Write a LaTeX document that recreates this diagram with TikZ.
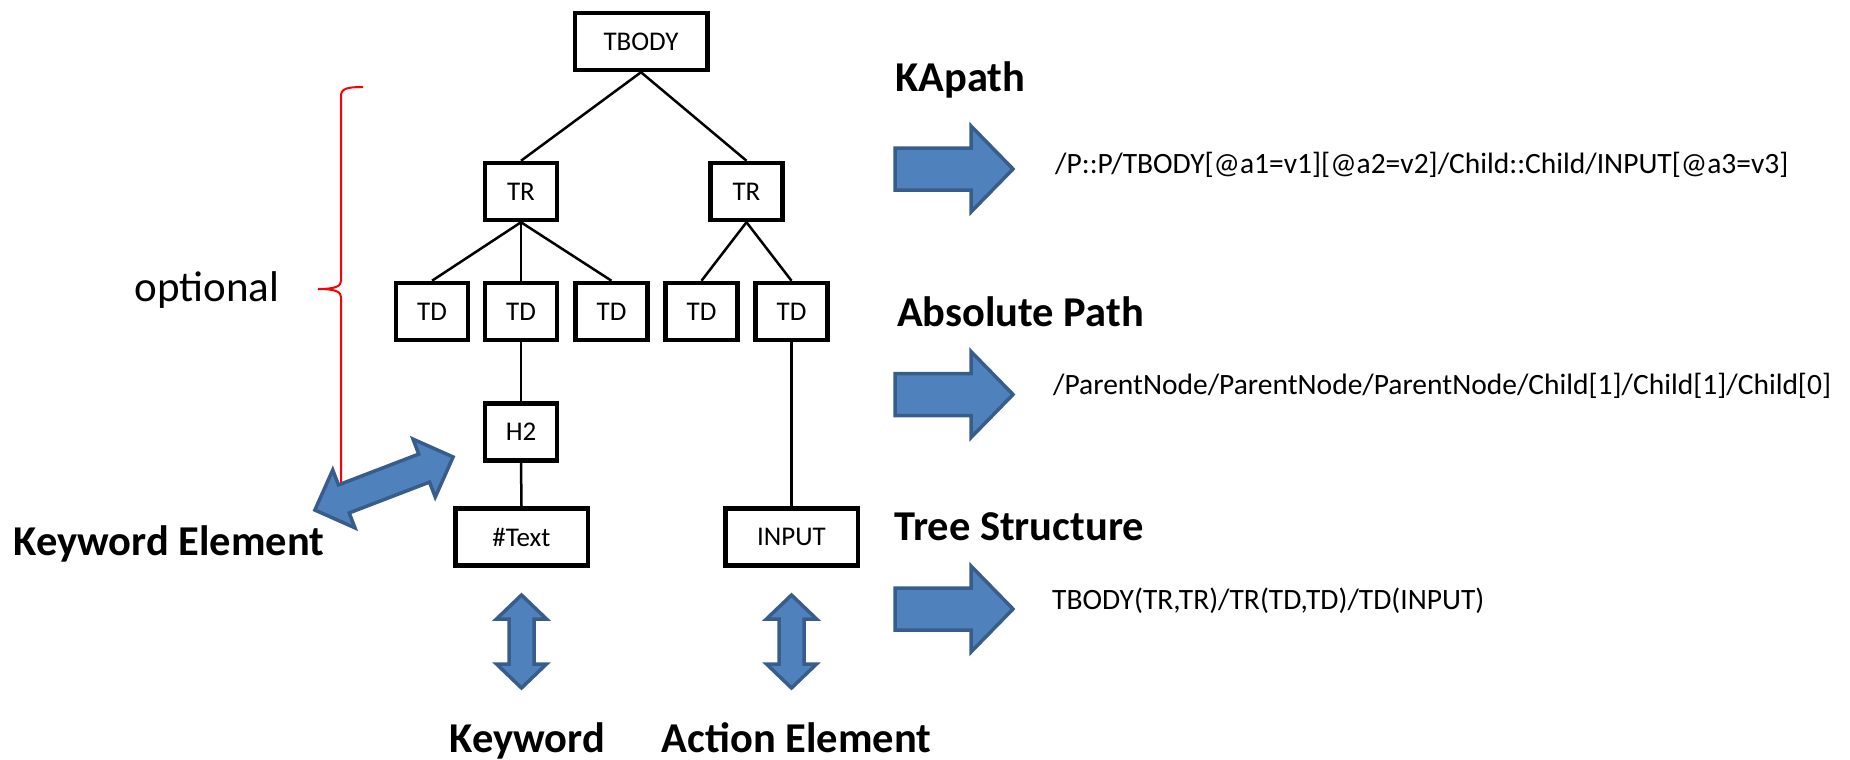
\documentclass[tikz,border=0pt]{standalone}
\usepackage{fontspec}
\setmainfont{Carlito}
\definecolor{arrowfill}{HTML}{4F81BD}
\definecolor{arrowline}{HTML}{385D8A}
\tikzset{
  box/.style={draw, line width=4.5pt, minimum height=57pt, inner sep=0pt, font=\fontsize{27}{32}\selectfont},
  widebox/.style={box, minimum width=132.5pt},
  smallbox/.style={box, minimum width=72pt},
  treeedge/.style={line width=2.5pt},
  hdr/.style={font=\fontsize{42.5}{50}\selectfont\bfseries, inner sep=0pt, anchor=base west},
  ptxt/.style={font=\fontsize{29.5}{34}\selectfont, inner sep=0pt, anchor=base west},
  bracestyle/.style={draw=red, line width=2pt},
  blockarrow/.style={fill=arrowfill, draw=arrowline, line width=3.5pt, line join=miter},
  pics/rarrow/.style={code={
    \path[blockarrow] (0,-21) -- (76,-21) -- (76,-43) -- (118,0) -- (76,43) -- (76,21) -- (0,21) -- cycle;
  }},
  pics/dbl/.style n args={4}{code={
    \path[blockarrow] (-#1/2,0) -- (-#1/2+#4,-#2/2) -- (-#1/2+#4,-#3/2) -- (#1/2-#4,-#3/2) -- (#1/2-#4,-#2/2) -- (#1/2,0) -- (#1/2-#4,#2/2) -- (#1/2-#4,#3/2) -- (-#1/2+#4,#3/2) -- (-#1/2+#4,#2/2) -- cycle;
  }},
}
\begin{document}
\begin{tikzpicture}[x=1pt,y=-1pt]
\useasboundingbox (0,0) rectangle (1850,760);

% tree nodes
\node[widebox] (tbody) at (641,41.5) {TBODY};
\node[smallbox] (tr1) at (521,191.5) {TR};
\node[smallbox] (tr2) at (746.5,191.5) {TR};
\node[smallbox] (td1) at (432,311.5) {TD};
\node[smallbox] (td2) at (521,311.5) {TD};
\node[smallbox] (td3) at (611.5,311.5) {TD};
\node[smallbox] (td4) at (701.5,311.5) {TD};
\node[smallbox] (td5) at (791.5,311.5) {TD};
\node[smallbox] (h2) at (521,432) {H2};
\node[widebox] (txt) at (521.5,537) {\#Text};
\node[widebox] (input) at (791.5,537) {INPUT};

% tree edges
\draw[treeedge] (tbody.south) -- (tr1.north);
\draw[treeedge] (tbody.south) -- (tr2.north);
\draw[treeedge] (tr1.south) -- (td1.north);
\draw[treeedge] (tr1.south) -- (td2.north);
\draw[treeedge] (tr1.south) -- (td3.north);
\draw[treeedge] (tr2.south) -- (td4.north);
\draw[treeedge] (tr2.south) -- (td5.north);
\draw[treeedge] (td2.south) -- (h2.north);
\draw[treeedge] (h2.south) -- (txt.north);
\draw[treeedge] (td5.south) -- (input.north);

% red brace
\draw[bracestyle] (363,87) .. controls (346,87) and (341,89) .. (341,96) -- (341,281)
  .. controls (341,286) and (336,289) .. (318,289)
  .. controls (336,289) and (341,292) .. (341,297) -- (341,482)
  .. controls (341,489) and (346,491) .. (363,491);
\node[font=\fontsize{43}{50}\selectfont, inner sep=0pt, anchor=base] (optional) at (207,301) {optional};

% keyword element arrow and label
\pic[rotate=21] at (384,483.5) {dbl={148}{62}{30}{31}};
\node[hdr, anchor=base] (kwelem) at (169,555) {Keyword Element};

% vertical double arrows
\pic[rotate=90] at (521.5,641.5) {dbl={93}{50}{25}{24}};
\pic[rotate=90] at (791.5,641.5) {dbl={93}{50}{25}{24}};
\node[hdr, anchor=base] (kw) at (527.5,752) {Keyword};
\node[hdr, anchor=base] (action) at (796.5,752) {Action Element};

% right side
\node[hdr] (kapath) at (895,92) {KApath};
\pic at (895,169) {rarrow};
\node[ptxt] (kapathtxt) at (1055,173) {/P::P/TBODY[@a1=v1][@a2=v2]/Child::Child/INPUT[@a3=v3]};

\node[hdr] (abspath) at (897,326) {Absolute Path};
\pic at (895,394.5) {rarrow};
\node[ptxt] (abstxt) at (1053,394) {/ParentNode/ParentNode/ParentNode/Child[1]/Child[1]/Child[0]};

\node[hdr] (treestr) at (894,540) {Tree Structure};
\pic at (895,609) {rarrow};
\node[ptxt] (treetxt) at (1052,609) {TBODY(TR,TR)/TR(TD,TD)/TD(INPUT)};
\end{tikzpicture}
\end{document}
